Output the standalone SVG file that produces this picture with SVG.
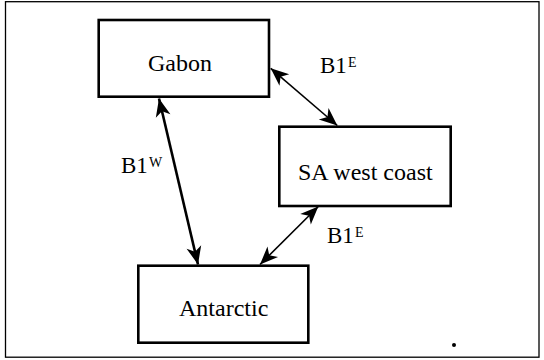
<svg xmlns="http://www.w3.org/2000/svg" width="544" height="360" viewBox="0 0 544 360">
<style>
.box{fill:#fff;stroke:#000;stroke-width:2.6}
text{font-family:'Liberation Serif',serif;fill:#000}
.lbl{font-size:24px}
.edge{font-size:23px}
.sup{font-size:14px}
.thick{stroke:#000;stroke-width:2.6;fill:none}
.thin{stroke:#000;stroke-width:1.6;fill:none}
</style>
<defs>
<marker id="ah" markerUnits="userSpaceOnUse" viewBox="-20 -10 22 20" refX="0" refY="0" markerWidth="22" markerHeight="20" orient="auto-start-reverse">
<path d="M0,0 L-18,-7.5 L-13,0 L-18,7.5 Z" fill="#000"/>
</marker>
</defs>
<rect x="5.5" y="1.7" width="533.5" height="355.5" fill="#fff" stroke="#000" stroke-width="1.3"/>
<g id="gabon">
<rect class="box" x="98.7" y="20" width="170.3" height="76.7"/>
<text class="lbl" x="148" y="71" font-family="Liberation Serif, serif">Gabon</text>
</g>
<g id="sa-west-coast">
<rect class="box" x="279.3" y="126.7" width="171.4" height="79.3"/>
<text class="lbl" x="298" y="180" font-family="Liberation Serif, serif">SA west coast</text>
</g>
<g id="antarctic">
<rect class="box" x="138.3" y="265.7" width="170" height="77"/>
<text class="lbl" x="179" y="316" font-family="Liberation Serif, serif">Antarctic</text>
</g>
<g id="connectors">
<line class="thin" x1="270.7" y1="68.3" x2="337.3" y2="125.5" marker-start="url(#ah)" marker-end="url(#ah)"/>
<line class="thick" x1="159" y1="98.5" x2="198" y2="264.5" marker-start="url(#ah)" marker-end="url(#ah)"/>
<line class="thin" x1="318.3" y1="206.5" x2="260" y2="264.5" marker-start="url(#ah)" marker-end="url(#ah)"/>
<text class="edge" x="320" y="72.7" font-family="Liberation Serif, serif">B1<tspan class="sup" x="348" y="67">E</tspan></text>
<text class="edge" x="121" y="173.3" font-family="Liberation Serif, serif">B1<tspan class="sup" x="149" y="167.3">W</tspan></text>
<text class="edge" x="327" y="243.3" font-family="Liberation Serif, serif">B1<tspan class="sup" x="355" y="237.3">E</tspan></text>
</g>
<circle cx="454" cy="345" r="2" fill="#000"/>
</svg>
